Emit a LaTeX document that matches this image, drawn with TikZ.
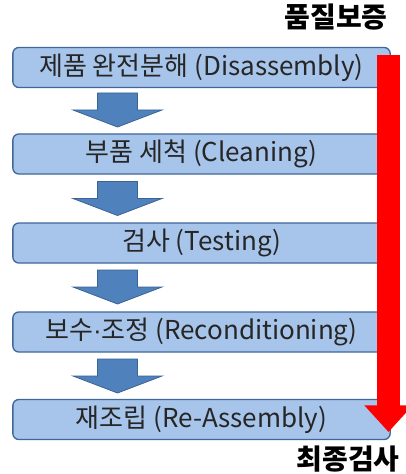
\documentclass[tikz,border=0pt]{standalone}
\usepackage{fontspec}
\setmainfont{Noto Sans CJK KR}
\newfontfamily\dotfont{Liberation Sans}
\usetikzlibrary{arrows.meta, positioning}

\definecolor{boxfill}{HTML}{A7C4EA}
\definecolor{boxline}{HTML}{41679A}
\definecolor{flowfill}{HTML}{4F81BD}
\definecolor{flowline}{HTML}{3A6494}
\definecolor{txt}{HTML}{262626}

\tikzset{
  stage/.style={rectangle, rounded corners=4.5pt, draw=boxline, line width=1pt,
    fill=boxfill, minimum width=283pt, minimum height=30pt, inner sep=0pt,
    text=txt, font=\fontsize{19.5}{21}\selectfont},
  flow/.style={draw=flowline, line width=0.6pt, fill=flowfill, line join=miter},
  tag/.style={font=\fontsize{21}{23}\selectfont\bfseries, text=black, inner sep=0pt}
}

% block arrow pointing down, tip at the given point
\newcommand{\downflow}[2]{%
  \filldraw[flow] (#1-20,#2-34) -- (#1+20,#2-34) -- (#1+20,#2-17) -- (#1+44.5,#2-17)
    -- (#1,#2) -- (#1-44.5,#2-17) -- (#1-20,#2-17) -- cycle;}

\begin{document}
\begin{tikzpicture}[x=0.75pt, y=-0.75pt]
					\useasboundingbox (0,0) rectangle (406,474);

					\node[stage] (s1) at (201.5,67.5) {제품 완전분해 (Disassembly)};
					\node[stage] (s2) at (201.5,154) {부품 세척 (Cleaning)};
					\node[stage] (s3) at (201.5,243) {검사 (Testing)};
					\node[stage] (s4) at (201.5,332) {보수{\dotfont ·}조정 (Reconditioning)};
					\node[stage] (s5) at (201.5,419.5) {재조립 (Re-Assembly)};

					\downflow{117.5}{127}
					\downflow{117.5}{215.5}
					\downflow{117.5}{304}
					\downflow{117.5}{393}

					\node[tag, anchor=east] (qa) at (388,17) {품질보증};
					\node[tag, anchor=east] (fin) at (400,459) {최종검사};

					\coordinate (rtop) at (388.5,55);
					\coordinate (rbot) at (388.5,432);
					\draw[red, line width=17pt, -{Triangle[width=35pt, length=20pt]}] (rtop) -- (rbot);
				\end{tikzpicture}
\end{document}
